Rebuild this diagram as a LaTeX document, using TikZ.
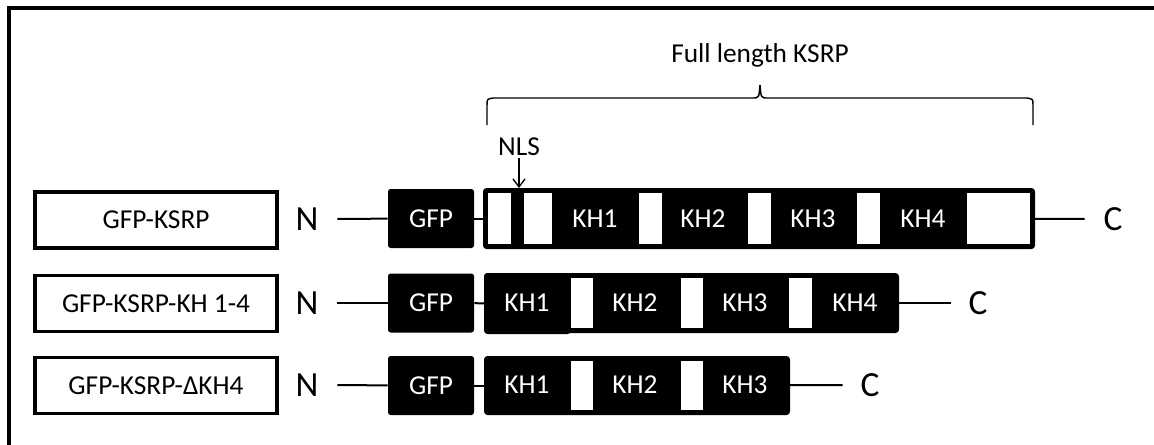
\documentclass[tikz,border=0pt]{standalone}
\usepackage{fontspec}
\setmainfont{Carlito}
\usetikzlibrary{arrows.meta}
\newlength\pxu
\setlength\pxu{0.75pt}
\newcommand\labfont{\fontsize{20.5}{24}\selectfont}
\newcommand\termfont{\fontsize{26.5}{30}\selectfont}
\tikzset{
  namebox/.style={draw, line width=2.4pt, minimum width=242\pxu, minimum height=56\pxu, inner sep=0pt, font=\labfont},
  term/.style={inner sep=0pt, minimum width=60\pxu, font=\termfont},
  gfp/.style={fill=black, text=white, rounded corners=2pt, minimum width=86\pxu, minimum height=59\pxu, inner sep=0pt, font=\labfont},
  strip/.style={draw, fill=black, line width=1.5pt, rounded corners=2pt, inner sep=0pt},
  khlab/.style={text=white, inner sep=0pt, font=\labfont},
  link/.style={line width=1.5pt}
}

\begin{document}
\begin{tikzpicture}[x=0.75pt, y=-0.75pt]
\useasboundingbox (0,0) rectangle (1154,444);
% outer frame (cut at right and bottom)
\draw[line width=3pt] (9,460) -- (9,8) -- (1170,8);

% construct names
\node[namebox] (lab1) at (156,220) {GFP-KSRP};
\node[namebox] (lab2) at (156,303.5) {GFP-KSRP-KH 1-4};
\node[namebox] (lab3) at (156,385.5) {GFP-KSRP-ΔKH4};

% row 1: full length
\node[term] (n1) at (307,219) {N};
\node[gfp] (g1) at (431,218.5) {GFP};
\node[strip, minimum width=550\pxu, minimum height=59\pxu] (s1) at (759,218.5) {};
\fill[white] (488,193) rectangle (511,244);
\fill[white] (524,193) rectangle (552,244);
\fill[white] (639,193) rectangle (662,244);
\fill[white] (748,193) rectangle (771,244);
\fill[white] (857,193) rectangle (880,244);
\fill[white] (967,193) rectangle (1030,244);
\node[khlab] (kh11) at (595,219) {KH1};
\node[khlab] (kh12) at (703,219) {KH2};
\node[khlab] (kh13) at (813,219) {KH3};
\node[khlab] (kh14) at (923,219) {KH4};
\node[term, minimum width=56\pxu] (c1) at (1113,219) {C};
\draw[link] (n1) -- (g1);
\draw[link] (g1) -- (s1);
\draw[link] (s1) -- (c1);

% row 2: KH 1-4
\node[term] (n2) at (307,303) {N};
\node[gfp] (g2) at (431,303) {GFP};
\node[strip, minimum width=413\pxu, minimum height=58\pxu] (s2) at (691.5,303) {};
\node[strip, minimum width=85\pxu, minimum height=59\pxu] (s2a) at (527.5,303.5) {};
\fill[white] (571,278) rectangle (593,328);
\fill[white] (681,278) rectangle (703,328);
\fill[white] (789,278) rectangle (812,328);
\node[khlab] (kh21) at (527,303) {KH1};
\node[khlab] (kh22) at (635,303) {KH2};
\node[khlab] (kh23) at (745,303) {KH3};
\node[khlab] (kh24) at (855,303) {KH4};
\node[term, minimum width=54\pxu] (c2) at (978,303) {C};
\draw[link] (n2) -- (g2);
\draw[link] (g2) -- (s2a);
\draw[link] (s2) -- (c2);

% row 3: delta KH4
\node[term] (n3) at (307,385) {N};
\node[gfp] (g3) at (431,385.5) {GFP};
\node[strip, minimum width=304\pxu, minimum height=57\pxu] (s3) at (637,385.5) {};
\fill[white] (571,361) rectangle (593,410);
\fill[white] (681,361) rectangle (703,410);
\node[khlab] (kh31) at (527,385) {KH1};
\node[khlab] (kh32) at (635,385) {KH2};
\node[khlab] (kh33) at (745,385) {KH3};
\node[term, minimum width=54\pxu] (c3) at (870,385) {C};
\draw[link] (n3) -- (g3);
\draw[link] (g3) -- (s3);
\draw[link] (s3) -- (c3);

% NLS marker
\node[inner sep=1pt, font=\labfont] (nls) at (519,147) {NLS};
\coordinate (nlspt) at (519,188);
\draw[line width=1pt, -{Straight Barb[length=6pt, width=9pt]}] (nls) -- (nlspt);

% brace over the full length protein
\draw[line width=1.1pt] (487,125) -- (487,105) .. controls (487,99) .. (493,98)
  -- (752,98) .. controls (759,98) .. (760,85) .. controls (761,98) .. (768,98)
  -- (1027,98) .. controls (1033,99) .. (1033,105) -- (1033,125);
\node[inner sep=0pt, font=\labfont] (full) at (760,55) {Full length KSRP};
\end{tikzpicture}
\end{document}
